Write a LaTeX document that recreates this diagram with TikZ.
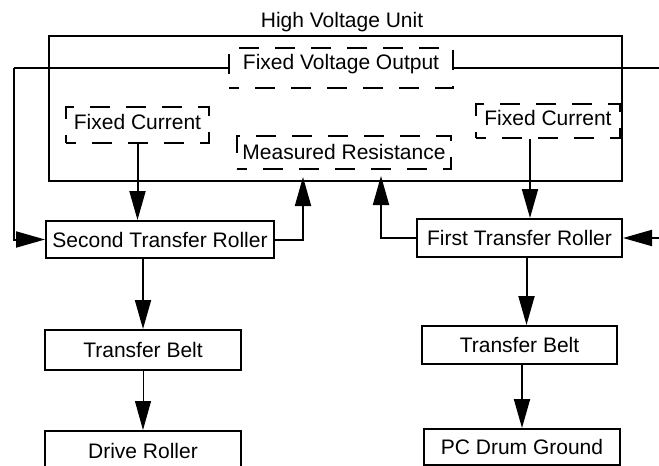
\documentclass[tikz,border=0pt]{standalone}
\usepackage{fontspec}
\setmainfont{Liberation Sans}
\usepackage{tikz}
\usetikzlibrary{arrows.meta, positioning, calc}

\begin{document}
\begin{tikzpicture}[
  x=0.5pt, y=-0.5pt,
  font=\fontsize{10.5}{12.6}\selectfont,
  box/.style={draw, rectangle, line width=1pt, inner sep=2pt},
  fixbox/.style={draw, rectangle, line width=1pt, inner sep=2pt, dash pattern=on 10pt off 8pt, dash phase=5pt},
  arr/.style={-{Triangle[length=14.5pt, width=8pt]}, line width=1pt},
  thinarr/.style={-{Triangle[length=14.5pt, width=8pt]}, line width=0.5pt}
]
\useasboundingbox (0,0) rectangle (659,466);
\node[box, minimum width=286.5pt, minimum height=72.5pt] (hvu) at (335.5,108.5) {};
\node (title) at (342,22) {High Voltage Unit};
\node[fixbox, minimum width=112pt, text height=8.75pt, text depth=7.25pt] (fvo) at (341,68) {Fixed Voltage Output};
\node[fixbox, minimum width=71.5pt, text height=9.25pt, text depth=4.75pt] (fcl) at (137.5,125) {Fixed Current};
\node[fixbox, minimum width=107pt, text height=9.75pt, text depth=2.75pt] (mr) at (344,152.5) {Measured Resistance};
\node[fixbox, minimum width=72pt, text height=8.75pt, text depth=4.25pt] (fcr) at (548,121) {Fixed Current};
\node[box, minimum width=114pt, minimum height=18.5pt] (str) at (160,239.5) {Second Transfer Roller};
\node[box, minimum width=102.5pt, minimum height=19pt] (ftr) at (519.5,238) {First Transfer Roller};
\node[box, minimum width=98pt, minimum height=20pt] (tbl) at (143,350) {Transfer Belt};
\node[box, minimum width=98pt, minimum height=20pt, below=29.5pt of tbl] (dr) {Drive Roller};
\node[box, minimum width=97.5pt, minimum height=19pt] (tbr) at (519.5,345) {Transfer Belt};
\node[box, minimum width=98pt, minimum height=18pt, below=31.5pt of tbr, xshift=1.25pt] (pcd) {PC Drum Ground};
\coordinate (lft) at (14,68);
\coordinate (rgt) at (662,68);
\coordinate (mrl) at (303,177);
\coordinate (mrr) at (381,176);
\draw[line width=1pt] (fvo.west) -- (lft);
\draw[arr] (lft) |- (str.west);
\draw[line width=1pt] (fvo.east) -- (rgt);
\draw[arr] (rgt |- ftr.east) -- (ftr.east);
\draw[arr] (fcl.south) -- (fcl.south |- str.north);
\draw[arr] ([xshift=-9pt]fcr.south) -- ([xshift=-9pt]fcr.south |- ftr.north);
\draw[arr] (str.east) -| (mrl);
\draw[arr] (ftr.west) -| (mrr);
\draw[arr] (tbl.north |- str.south) -- (tbl.north);
\draw[thinarr] (tbl) -- (dr);
\draw[arr] ([xshift=3.5pt]ftr.south) -- ([xshift=3.5pt]ftr.south |- tbr.north);
\draw[arr] (pcd.north |- tbr.south) -- (pcd.north);
\end{tikzpicture}
\end{document}
